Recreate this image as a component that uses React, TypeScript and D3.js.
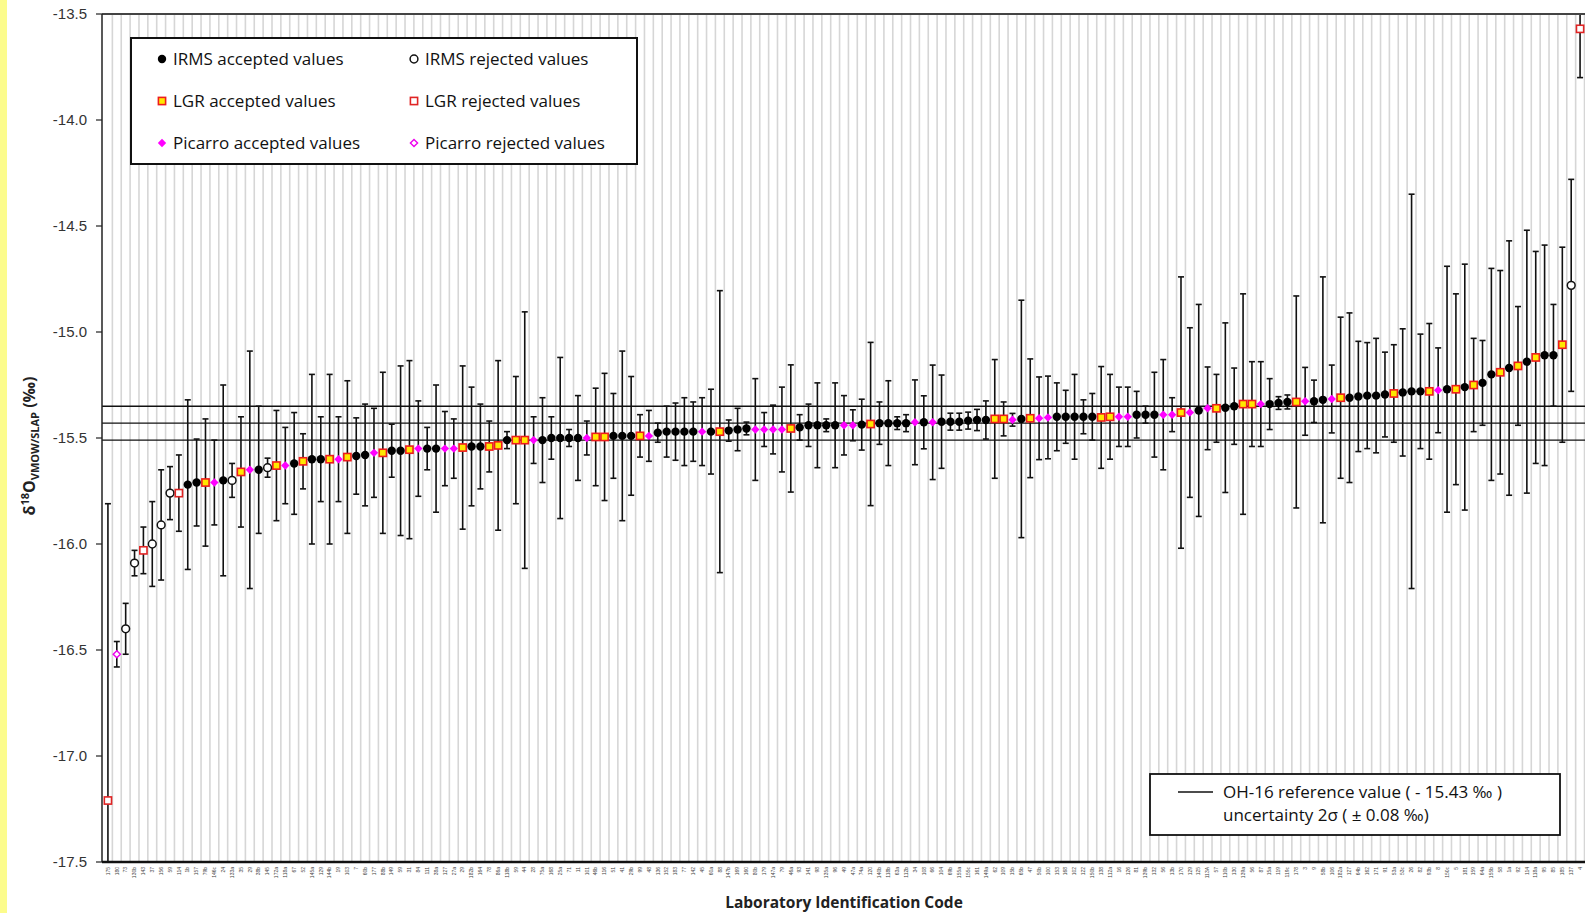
import React from "react";
import * as d3 from "d3";

// laboratory codes, in plotting order (sorted by result)
const labCodes = [
  "175", "180", "73", "130b", "143", "37", "156", "59", "114", "1b",
  "157", "79b", "146c", "24", "133a", "35", "29", "38b", "145", "172a",
  "118a", "67", "52", "145a", "129", "144b", "19", "103", "7", "60b",
  "177", "88b", "149", "59", "31", "84", "111", "38a", "127", "27a",
  "29", "182b", "164", "78", "86a", "118b", "59", "44", "28", "75a",
  "168", "25a", "71", "11", "101", "46b", "116", "51", "41", "29b",
  "99", "48", "136", "152", "183", "77", "142", "45", "60a", "88",
  "147b", "169", "160", "80b", "179", "147a", "79", "46a", "93", "141",
  "98", "135a", "96", "49", "47a", "74a", "120", "140b", "118b", "63a",
  "112b", "34", "108", "66", "104", "69b", "155a", "155c", "161", "149a",
  "62", "109", "15b", "65b", "47", "50b", "100", "153", "168", "102",
  "122", "150b", "138", "112a", "16", "126", "81", "139b", "132", "56",
  "13b", "170", "129", "125", "113A", "57", "110b", "130", "139a", "56",
  "87", "15a", "119", "119c", "178", "3", "9", "58b", "106", "182a",
  "127", "64b", "162", "171", "91", "53a", "53c", "26", "82", "93b",
  "8", "150c", "5", "181", "159", "64a", "155b", "58", "1a", "92",
  "114", "118a", "95", "85", "185", "137", "4",
];

// δ18O results (‰)
const results = [
  -17.21, -16.52, -16.4, -16.09, -16.03, -16.0, -15.91, -15.76, -15.76, -15.72,
  -15.71, -15.71, -15.71, -15.7, -15.7, -15.66, -15.65, -15.65, -15.64, -15.63,
  -15.63, -15.62, -15.61, -15.6, -15.6, -15.6, -15.6, -15.59, -15.585, -15.58,
  -15.57, -15.57, -15.56, -15.56, -15.555, -15.55, -15.55, -15.55, -15.55, -15.55,
  -15.545, -15.54, -15.54, -15.54, -15.535, -15.51, -15.51, -15.51, -15.51, -15.51,
  -15.5, -15.5, -15.5, -15.5, -15.5, -15.495, -15.495, -15.49, -15.49, -15.49,
  -15.49, -15.49, -15.475, -15.47, -15.47, -15.47, -15.47, -15.47, -15.47, -15.47,
  -15.465, -15.46, -15.455, -15.46, -15.46, -15.46, -15.46, -15.455, -15.45, -15.44,
  -15.44, -15.44, -15.44, -15.44, -15.44, -15.437, -15.434, -15.43, -15.43, -15.43,
  -15.43, -15.426, -15.426, -15.426, -15.423, -15.423, -15.423, -15.418, -15.415, -15.415,
  -15.41, -15.41, -15.414, -15.41, -15.407, -15.407, -15.403, -15.4, -15.4, -15.4,
  -15.4, -15.4, -15.403, -15.4, -15.4, -15.4, -15.39, -15.39, -15.39, -15.39,
  -15.39, -15.38, -15.38, -15.37, -15.36, -15.36, -15.357, -15.35, -15.34, -15.34,
  -15.34, -15.34, -15.335, -15.33, -15.33, -15.327, -15.327, -15.32, -15.316, -15.31,
  -15.31, -15.304, -15.3, -15.3, -15.295, -15.29, -15.285, -15.28, -15.28, -15.28,
  -15.275, -15.27, -15.27, -15.26, -15.25, -15.24, -15.2, -15.19, -15.17, -15.16,
  -15.14, -15.12, -15.11, -15.11, -15.06, -14.78, -13.57,
];

// expanded uncertainties (‰)
const uncertainties = [
  1.4, 0.06, 0.12, 0.06, 0.11, 0.2, 0.26, 0.125, 0.18, 0.4,
  0.205, 0.3, 0.2, 0.45, 0.08, 0.26, 0.56, 0.3, 0.045, 0.26,
  0.18, 0.24, 0.13, 0.4, 0.2, 0.4, 0.2, 0.36, 0.18, 0.24,
  0.21, 0.38, 0.125, 0.4, 0.42, 0.225, 0.1, 0.3, 0.175, 0.14,
  0.385, 0.28, 0.2, 0.12, 0.4, 0.04, 0.3, 0.605, 0.11, 0.2,
  0.1, 0.38, 0.04, 0.2, 0.08, 0.23, 0.3, 0.2, 0.4, 0.28,
  0.1, 0.12, 0.045, 0.12, 0.135, 0.16, 0.14, 0.16, 0.2, 0.665,
  0.05, 0.1, 0.03, 0.24, 0.08, 0.115, 0.2, 0.3, 0.06, 0.1,
  0.2, 0.03, 0.2, 0.14, 0.073, 0.12, 0.385, 0.1, 0.2, 0.03,
  0.04, 0.2, 0.125, 0.27, 0.22, 0.04, 0.04, 0.04, 0.05, 0.09,
  0.28, 0.08, 0.03, 0.56, 0.28, 0.195, 0.195, 0.16, 0.125, 0.2,
  0.08, 0.11, 0.24, 0.2, 0.14, 0.14, 0.11, 0.04, 0.2, 0.26,
  0.08, 0.64, 0.4, 0.5, 0.195, 0.16, 0.4, 0.18, 0.52, 0.2,
  0.2, 0.12, 0.03, 0.033, 0.5, 0.16, 0.1, 0.58, 0.16, 0.38,
  0.4, 0.26, 0.25, 0.27, 0.2, 0.23, 0.3, 0.93, 0.27, 0.32,
  0.2, 0.58, 0.45, 0.58, 0.22, 0.2, 0.5, 0.48, 0.6, 0.28,
  0.62, 0.5, 0.52, 0.24, 0.46, 0.5, 0.23,
];

// I = IRMS, L = LGR, P = Picarro ; A = accepted, R = rejected
const methods = [
  "LR", "PR", "IR", "IR", "LR", "IR", "IR", "IR", "LR", "IA",
  "IA", "LA", "PA", "IA", "IR", "LA", "PA", "IA", "IR", "LA",
  "PA", "IA", "LA", "IA", "IA", "LA", "PA", "LA", "IA", "IA",
  "PA", "LA", "IA", "IA", "LA", "PA", "IA", "IA", "PA", "PA",
  "LA", "IA", "IA", "LA", "LA", "IA", "LA", "LA", "PA", "IA",
  "IA", "IA", "IA", "IA", "PA", "LA", "LA", "IA", "IA", "IA",
  "LA", "PA", "IA", "IA", "IA", "IA", "IA", "PA", "IA", "LA",
  "IA", "IA", "IA", "PA", "PA", "PA", "PA", "LA", "IA", "IA",
  "IA", "IA", "IA", "PA", "PA", "IA", "LA", "IA", "IA", "IA",
  "IA", "PA", "IA", "PA", "IA", "IA", "IA", "IA", "IA", "IA",
  "LA", "LA", "PA", "IA", "LA", "PA", "PA", "IA", "IA", "IA",
  "IA", "IA", "LA", "LA", "PA", "PA", "IA", "IA", "IA", "PA",
  "PA", "LA", "PA", "IA", "PA", "LA", "IA", "IA", "LA", "LA",
  "PA", "IA", "IA", "IA", "LA", "PA", "IA", "IA", "PA", "LA",
  "IA", "IA", "IA", "IA", "IA", "LA", "IA", "IA", "IA", "LA",
  "PA", "IA", "LA", "IA", "LA", "IA", "IA", "LA", "IA", "LA",
  "IA", "LA", "IA", "IA", "LA", "IR", "LR",
];

const yTicks = [-13.5, -14.0, -14.5, -15.0, -15.5, -16.0, -16.5, -17.0, -17.5];
const refValue = -15.43;
const refUncertainty = 0.08;

const legendItems = [
  ["IA", "IRMS accepted values"], ["IR", "IRMS rejected values"],
  ["LA", "LGR accepted values"], ["LR", "LGR rejected values"],
  ["PA", "Picarro accepted values"], ["PR", "Picarro rejected values"],
];

const W = 1585;
const H = 913;
const plot = { left: 102, right: 1585, top: 14, bottom: 862 };
const font = "'Open Sans', 'Liberation Sans', sans-serif";

function Marker({ kind, x, y }: { kind: string; x: number; y: number }) {
  const open = kind[1] === "R";
  if (kind[0] === "I") {
    return open ? (
      <circle cx={x} cy={y} r={3.9} fill="#fff" stroke="#111" strokeWidth={1.5} />
    ) : (
      <circle cx={x} cy={y} r={4.2} fill="#000" />
    );
  }
  if (kind[0] === "L") {
    return (
      <rect x={x - 3.6} y={y - 3.6} width={7.2} height={7.2}
        fill={open ? "#fff" : "#ffe800"} stroke={open ? "#e02424" : "#ee1c1c"} strokeWidth={1.6} />
    );
  }
  const s = open ? 3.6 : 4.2;
  return (
    <path d={`M${x},${y - s}L${x + s},${y}L${x},${y + s}L${x - s},${y}Z`}
      fill={open ? "#fff" : "#ff00ff"} stroke={open ? "#ee00ee" : "none"} strokeWidth={1.4} />
  );
}

export default function App() {
  const ids = labCodes.map((_, i) => String(i));
  const x = d3.scaleBand().domain(ids).range([103.5, 1584.5]);
  const y = d3.scaleLinear().domain([-17.5, -13.5]).range([plot.bottom, plot.top]);
  const bw = x.bandwidth();
  const cx = (i: number) => (x(String(i)) as number) + bw / 2;
  const fmt = (v: number) => v.toFixed(1);

  return (
    <svg width={W} height={H} style={{ position: "absolute", left: 0, top: 0, background: "#fff" }}
      fontFamily={font}>
      <defs>
        <clipPath id="plotClip">
          <rect x={plot.left} y={plot.top} width={plot.right - plot.left} height={plot.bottom - plot.top} />
        </clipPath>
      </defs>
      <rect x={0} y={0} width={7} height={H} fill="#fcfc8c" />

      {/* vertical category grid */}
      <g stroke="#d6d6d6" strokeWidth={1.6}>
        {ids.map((id) => (
          <line key={id} x1={(x(id) as number) + bw} x2={(x(id) as number) + bw} y1={plot.top} y2={plot.bottom} />
        ))}
      </g>

      {/* reference value and 2σ band */}
      <g stroke="#111" strokeWidth={1.4}>
        {[refValue + refUncertainty, refValue, refValue - refUncertainty].map((v) => (
          <line key={v} x1={plot.left} x2={plot.right} y1={y(v)} y2={y(v)} />
        ))}
      </g>

      {/* error bars */}
      <g clipPath="url(#plotClip)" stroke="#111" strokeWidth={1.6}>
        {results.map((v, i) => {
          const px = cx(i);
          const y1 = y(v + uncertainties[i]);
          const y2 = y(v - uncertainties[i]);
          return (
            <g key={i}>
              <line x1={px} x2={px} y1={y1} y2={y2} />
              <line x1={px - 3} x2={px + 3} y1={y1} y2={y1} />
              <line x1={px - 3} x2={px + 3} y1={y2} y2={y2} />
            </g>
          );
        })}
      </g>

      {/* markers */}
      <g clipPath="url(#plotClip)">
        {results.map((v, i) => (
          <Marker key={i} kind={methods[i]} x={cx(i)} y={y(v)} />
        ))}
      </g>

      {/* frame and axes */}
      <line x1={plot.left} x2={plot.right} y1={plot.top} y2={plot.top} stroke="#444" strokeWidth={2} />
      <line x1={plot.left} x2={plot.left} y1={plot.top} y2={plot.bottom} stroke="#222" strokeWidth={1.5} />
      <line x1={plot.left} x2={plot.right} y1={plot.bottom} y2={plot.bottom} stroke="#111" strokeWidth={2.5} />

      <g fontSize={15} fill="#333" textAnchor="end">
        {yTicks.map((t) => (
          <g key={t}>
            <line x1={plot.left - 6} x2={plot.left} y1={y(t)} y2={y(t)} stroke="#222" strokeWidth={1.2} />
            <text x={87} y={y(t)} dy="0.35em" fontFamily="'Liberation Sans', Arial, sans-serif">{fmt(t)}</text>
          </g>
        ))}
      </g>

      <g fontSize={5} fill="#444" fontFamily="'Liberation Sans', Arial, sans-serif">
        {labCodes.map((c, i) => (
          <text key={i} transform={`translate(${cx(i)},${plot.bottom + 5}) rotate(-90)`} textAnchor="end" dy="0.35em">
            {c}
          </text>
        ))}
      </g>

      <text x={844} y={908} textAnchor="middle" fontSize={15.5} fontWeight="bold" fill="#222">
        Laboratory Identification Code
      </text>
      <text transform="translate(35,446) rotate(-90)" textAnchor="middle" fontSize={16} fontWeight="bold" fill="#222">
        δ<tspan fontSize={11} dy={-6}>18</tspan>
        <tspan dy={6}>O</tspan>
        <tspan fontSize={11} dy={4}>VMOW/SLAP</tspan>
        <tspan dy={-4}> (‰)</tspan>
      </text>

      {/* method legend */}
      <rect x={131} y={38} width={506} height={126} fill="#fff" stroke="#111" strokeWidth={2} />
      {legendItems.map(([k, label], i) => {
        const col = i % 2;
        const row = Math.floor(i / 2);
        const mx = col === 0 ? 162 : 414;
        const my = 59 + row * 42;
        return (
          <g key={k}>
            <Marker kind={k} x={mx} y={my} />
            <text x={mx + 11} y={my} dy="0.35em" fontSize={17} fill="#111">{label}</text>
          </g>
        );
      })}

      {/* reference legend */}
      <rect x={1150} y={774} width={410} height={61} fill="#fff" stroke="#111" strokeWidth={1.8} />
      <line x1={1178} x2={1213} y1={792} y2={792} stroke="#111" strokeWidth={1.6} />
      <text x={1223} y={792} dy="0.35em" fontSize={17} fill="#111">OH-16 reference value ( - 15.43 ‰ )</text>
      <text x={1223} y={815} dy="0.35em" fontSize={17} fill="#111">uncertainty 2σ ( ± 0.08 ‰)</text>
    </svg>
  );
}
